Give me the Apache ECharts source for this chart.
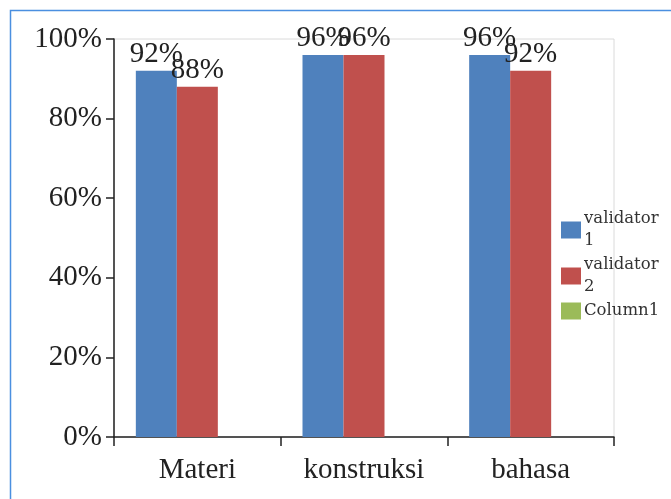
<!DOCTYPE html>
<html>
<head>
<meta charset="utf-8">
<script src="https://cdn.jsdelivr.net/npm/echarts@6/dist/echarts.min.js"></script>
<style>
  html, body { margin: 0; padding: 0; background: #fff; }
  #chart { width: 671px; height: 499px; }
</style>
</head>
<body>
<div id="chart"></div>
<script>
// Categories and series values (percent)
const categories = ['Materi', 'konstruksi', 'bahasa'];
const validator1 = [92, 96, 96];
const validator2 = [88, 96, 92];
const column1 = [];
const yTicks = [0, 20, 40, 60, 80, 100];

const serif = '"Liberation Serif", "DejaVu Serif", serif';
const pctLabel = {
  show: true,
  position: 'top',
  distance: 2,
  formatter: p => p.value + '%',
  fontFamily: serif,
  fontSize: 29,
  color: '#222'
};

const chart = echarts.init(document.getElementById('chart'));
chart.setOption({
  animation: false,
  graphic: [{
    type: 'rect',
    shape: { x: 10.5, y: 10.5, width: 700, height: 520 },
    style: { fill: 'none', stroke: '#4a8fe0', lineWidth: 1.5 },
    silent: true
  }],
  grid: {
    left: 114, top: 39, right: 57, bottom: 62,
    show: true, borderColor: '#dadada', borderWidth: 1, backgroundColor: 'transparent'
  },
  legend: {
    orient: 'vertical',
    left: 556,
    top: 203,
    itemWidth: 20,
    itemHeight: 17,
    itemGap: 2,
    icon: 'rect',
    formatter: name => name.replace(' ', '\n'),
    textStyle: { fontFamily: '"DejaVu Serif", serif', fontSize: 16.5, lineHeight: 22, color: '#333', padding: [0, 0, 0, -2] },
    data: ['validator 1', 'validator 2', 'Column1']
  },
  xAxis: {
    type: 'category',
    data: categories,
    axisLine: { lineStyle: { color: '#222', width: 1.5 } },
    axisTick: { show: true, length: 9, lineStyle: { color: '#222', width: 1.5 } },
    axisLabel: { fontFamily: serif, fontSize: 29, color: '#222', margin: 19 }
  },
  yAxis: {
    type: 'value',
    min: 0, max: 100, interval: 20,
    axisLine: { show: true, lineStyle: { color: '#222', width: 1.5 } },
    axisTick: { show: true, length: 8, lineStyle: { color: '#222', width: 1.5 } },
    splitLine: { show: false },
    axisLabel: {
      fontFamily: serif, fontSize: 29, color: '#222', margin: 12,
      formatter: v => (yTicks.includes(v) ? v + '%' : '')
    }
  },
  series: [
    {
      name: 'validator 1', type: 'bar', data: validator1,
      barWidth: 41, barGap: '0%',
      itemStyle: { color: '#4f81bd' },
      label: pctLabel
    },
    {
      name: 'validator 2', type: 'bar', data: validator2,
      barWidth: 41, barGap: '0%',
      itemStyle: { color: '#c0504d' },
      label: pctLabel
    },
    {
      name: 'Column1', type: 'bar', data: column1,
      barWidth: 41, barGap: '0%',
      itemStyle: { color: '#9bbb59' }
    }
  ]
});
</script>
</body>
</html>
